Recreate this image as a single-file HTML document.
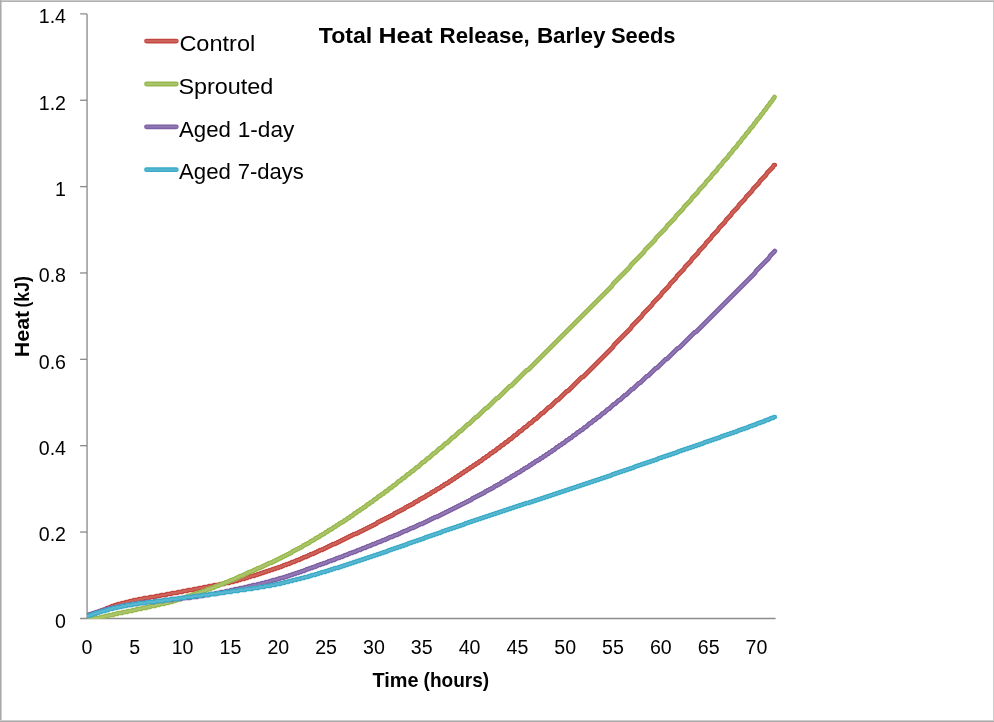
<!DOCTYPE html>
<html lang="en">
<head>
<meta charset="utf-8">
<title>Total Heat Release, Barley Seeds</title>
<style>
  html, body { margin: 0; padding: 0; background: #ffffff; }
  body { width: 994px; height: 722px; overflow: hidden; }
  svg { display: block; will-change: transform; opacity: 0.9999; font-family: "Liberation Sans", sans-serif; fill: #000; }
  .tick { font-size: 19.6px; }
  .legend { font-size: 22px; }
  .axt { font-size: 19.8px; font-weight: bold; }
  .title { font-size: 22.3px; font-weight: bold; }
</style>
</head>
<body>
<svg width="994" height="722" viewBox="0 0 994 722">
  <rect x="0" y="0" width="994" height="722" fill="#ffffff"/>
  <!-- outer frame -->
  <g shape-rendering="crispEdges">
    <rect x="0" y="0" width="994" height="1" fill="#c9c9c9"/>
    <rect x="0" y="1" width="994" height="1" fill="#b1b1b1"/>
    <rect x="0" y="0" width="1" height="722" fill="#a9a9a9"/>
    <rect x="1" y="2" width="1" height="720" fill="#d0d0d0"/>
    <rect x="993" y="2" width="1" height="720" fill="#cdcdcd"/>
    <rect x="0" y="720" width="994" height="1" fill="#cdcdcd"/>
    <rect x="0" y="721" width="994" height="1" fill="#a9a9a9"/>
  </g>
  <!-- axes -->
  <g stroke="#8c8c8c" stroke-width="1.35" fill="none">
    <polyline points="80.1,13.9 86.5,13.9 87.05,14.45 87.05,619.00" stroke-linejoin="round"/>
    <line x1="80.1" x2="775.6" y1="618.45" y2="618.45"/>
    <g><line x1="80.1" x2="87" y1="532.04" y2="532.04"/><line x1="80.1" x2="87" y1="445.69" y2="445.69"/><line x1="80.1" x2="87" y1="359.33" y2="359.33"/><line x1="80.1" x2="87" y1="272.97" y2="272.97"/><line x1="80.1" x2="87" y1="186.61" y2="186.61"/><line x1="80.1" x2="87" y1="100.26" y2="100.26"/></g>
  </g>
  <!-- series (drawn over axes, clipped to plot area) -->
  <defs><clipPath id="plot"><rect x="86.9" y="0" width="700" height="619"/></clipPath>
<path id="s-red" d="M87,617 L88,616 L90,616 L91,615 L92,615 L93,614 L95,614 L96,613 L97,613 L98,612 L99,612 L100,611 L101,611 L102,610 L104,610 L105,609 L106,609 L107,608 L109,608 L110,607 L111,607 L112,606 L114,606 L115,605 L117,605 L118,604 L121,604 L122,603 L125,603 L126,602 L129,602 L130,601 L133,601 L134,600 L138,600 L139,599 L143,599 L144,598 L149,598 L150,597 L155,597 L156,596 L160,596 L161,595 L166,595 L167,594 L171,594 L172,593 L177,593 L178,592 L182,592 L183,591 L187,591 L188,590 L193,590 L194,589 L198,589 L199,588 L203,588 L204,587 L208,587 L209,586 L213,586 L214,585 L219,585 L220,584 L224,584 L225,583 L229,583 L230,582 L233,582 L234,581 L237,581 L238,580 L240,580 L241,579 L244,579 L245,578 L247,578 L248,577 L250,577 L251,576 L254,576 L255,575 L257,575 L258,574 L260,574 L261,573 L263,573 L264,572 L266,572 L267,571 L269,571 L270,570 L272,570 L273,569 L275,569 L276,568 L278,568 L279,567 L281,567 L282,566 L283,566 L284,565 L286,565 L287,564 L289,564 L290,563 L291,563 L292,562 L294,562 L295,561 L296,561 L297,560 L299,560 L300,559 L301,559 L302,558 L303,558 L304,557 L306,557 L307,556 L308,556 L309,555 L310,555 L311,554 L313,554 L314,553 L315,553 L316,552 L317,552 L318,551 L319,551 L320,550 L322,550 L323,549 L324,549 L325,548 L326,548 L327,547 L328,547 L329,546 L330,546 L331,545 L332,545 L333,544 L335,544 L336,543 L337,543 L338,542 L339,542 L340,541 L341,541 L342,540 L343,540 L344,539 L345,539 L346,538 L347,538 L348,537 L349,537 L350,536 L351,536 L352,535 L353,535 L354,534 L356,534 L357,533 L358,533 L359,532 L360,532 L361,531 L362,531 L363,530 L364,530 L365,529 L366,529 L367,528 L368,528 L369,527 L370,527 L371,526 L372,526 L373,525 L374,525 L375,524 L376,524 L377,523 L378,522 L379,522 L380,521 L381,521 L382,520 L383,520 L384,519 L385,519 L386,518 L387,518 L388,517 L389,517 L390,516 L391,516 L392,515 L393,515 L394,514 L395,513 L396,513 L397,512 L398,512 L399,511 L400,511 L401,510 L402,510 L403,509 L404,509 L405,508 L406,507 L407,507 L408,506 L409,506 L410,505 L411,505 L412,504 L413,504 L414,503 L415,502 L416,502 L417,501 L418,501 L419,500 L420,499 L421,499 L422,498 L423,498 L424,497 L425,497 L426,496 L427,495 L428,495 L429,494 L430,494 L431,493 L432,492 L433,492 L434,491 L435,491 L436,490 L437,489 L438,489 L439,488 L440,488 L441,487 L442,486 L443,486 L444,485 L445,484 L446,484 L447,483 L448,483 L449,482 L450,481 L451,481 L452,480 L453,479 L454,479 L455,478 L456,477 L457,477 L458,476 L459,475 L460,475 L461,474 L462,473 L463,473 L464,472 L465,471 L466,471 L467,470 L468,469 L469,469 L470,468 L471,467 L472,467 L473,466 L474,465 L475,465 L476,464 L477,463 L478,463 L479,462 L480,461 L481,461 L482,460 L483,459 L484,458 L485,458 L486,457 L487,456 L488,456 L489,455 L490,454 L491,453 L492,453 L493,452 L494,451 L495,451 L496,450 L497,449 L498,448 L499,448 L500,447 L501,446 L502,445 L503,445 L504,444 L505,443 L506,442 L507,442 L508,441 L509,440 L510,439 L511,439 L512,438 L513,437 L514,436 L515,435 L516,435 L517,434 L518,433 L519,432 L520,431 L521,431 L522,430 L523,429 L524,428 L525,427 L526,427 L527,426 L528,425 L529,424 L530,423 L531,423 L532,422 L533,421 L534,420 L535,419 L536,419 L537,418 L538,417 L539,416 L540,415 L541,414 L542,413 L543,413 L544,412 L545,411 L546,410 L547,409 L548,408 L549,407 L550,407 L551,406 L552,405 L553,404 L554,403 L555,402 L556,401 L557,400 L558,400 L559,399 L560,398 L561,397 L562,396 L563,395 L564,394 L565,393 L566,392 L567,391 L568,391 L569,390 L570,389 L571,388 L572,387 L573,386 L574,385 L575,384 L576,383 L577,382 L578,381 L579,380 L580,379 L581,378 L582,377 L583,377 L584,376 L585,375 L586,374 L587,373 L588,372 L589,371 L590,370 L591,369 L592,368 L593,367 L594,366 L595,365 L596,364 L597,363 L598,362 L599,361 L600,360 L601,359 L602,358 L603,357 L604,356 L605,355 L606,354 L607,353 L608,352 L609,351 L610,350 L611,349 L612,348 L613,347 L614,345 L615,344 L616,343 L617,342 L618,341 L619,340 L620,339 L621,338 L622,337 L623,336 L624,335 L625,334 L626,333 L627,332 L628,331 L629,330 L630,329 L631,328 L632,326 L633,325 L634,324 L635,323 L636,322 L637,321 L638,320 L639,319 L640,318 L641,317 L642,316 L643,314 L644,313 L645,312 L646,311 L647,310 L648,309 L649,308 L650,307 L651,306 L652,305 L653,303 L654,302 L655,301 L656,300 L657,299 L658,298 L659,297 L660,296 L661,295 L662,293 L663,292 L664,291 L665,290 L666,289 L667,288 L668,287 L669,286 L670,284 L671,283 L672,282 L673,281 L674,280 L675,279 L676,278 L677,276 L678,275 L679,274 L680,273 L681,272 L682,271 L683,270 L684,269 L685,267 L686,266 L687,265 L688,264 L689,263 L690,262 L691,261 L692,259 L693,258 L694,257 L695,256 L696,255 L697,254 L698,253 L699,251 L700,250 L701,249 L702,248 L703,247 L704,246 L705,245 L706,243 L707,242 L708,241 L709,240 L710,239 L711,238 L712,236 L713,235 L714,234 L715,233 L716,232 L717,231 L718,230 L719,228 L720,227 L721,226 L722,225 L723,224 L724,223 L725,222 L726,220 L727,219 L728,218 L729,217 L730,216 L731,215 L732,213 L733,212 L734,211 L735,210 L736,209 L737,208 L738,207 L739,205 L740,204 L741,203 L742,202 L743,201 L744,200 L745,199 L746,197 L747,196 L748,195 L749,194 L750,193 L751,192 L752,191 L753,189 L754,188 L755,187 L756,186 L757,185 L758,184 L759,183 L760,181 L761,180 L762,179 L763,178 L764,177 L765,176 L766,175 L767,173 L768,172 L769,171 L770,170 L771,169 L772,168 L773,167 L774,165 L774.8,165"/>
<path id="s-green" d="M87,619 L93,619 L94,618 L100,618 L101,617 L104,617 L105,616 L108,616 L109,615 L113,615 L114,614 L117,614 L118,613 L122,613 L123,612 L127,612 L128,611 L132,611 L133,610 L136,610 L137,609 L141,609 L142,608 L146,608 L147,607 L150,607 L151,606 L155,606 L156,605 L159,605 L160,604 L164,604 L165,603 L168,603 L169,602 L172,602 L173,601 L175,601 L176,600 L178,600 L179,599 L181,599 L182,598 L184,598 L185,597 L187,597 L188,596 L190,596 L191,595 L193,595 L194,594 L196,594 L197,593 L199,593 L200,592 L202,592 L203,591 L205,591 L206,590 L207,590 L208,589 L210,589 L211,588 L213,588 L214,587 L215,587 L216,586 L218,586 L219,585 L220,585 L221,584 L223,584 L224,583 L225,583 L226,582 L228,582 L229,581 L230,581 L231,580 L233,580 L234,579 L235,579 L236,578 L237,578 L238,577 L239,577 L240,576 L242,576 L243,575 L244,575 L245,574 L246,574 L247,573 L248,573 L249,572 L251,572 L252,571 L253,571 L254,570 L255,570 L256,569 L257,569 L258,568 L260,568 L261,567 L262,567 L263,566 L264,566 L265,565 L266,565 L267,564 L268,564 L269,563 L271,563 L272,562 L273,562 L274,561 L275,561 L276,560 L277,560 L278,559 L279,559 L280,558 L281,558 L282,557 L283,557 L284,556 L285,556 L286,555 L287,555 L288,554 L289,554 L290,553 L291,553 L292,552 L293,551 L294,551 L295,550 L296,550 L297,549 L298,549 L299,548 L300,548 L301,547 L302,547 L303,546 L304,545 L305,545 L306,544 L307,544 L308,543 L309,543 L310,542 L311,541 L312,541 L313,540 L314,540 L315,539 L316,538 L317,538 L318,537 L319,537 L320,536 L321,535 L322,535 L323,534 L324,534 L325,533 L326,532 L327,532 L328,531 L329,530 L330,530 L331,529 L332,529 L333,528 L334,527 L335,527 L336,526 L337,525 L338,525 L339,524 L340,523 L341,523 L342,522 L343,522 L344,521 L345,520 L346,520 L347,519 L348,518 L349,518 L350,517 L351,516 L352,516 L353,515 L354,514 L355,513 L356,513 L357,512 L358,511 L359,511 L360,510 L361,509 L362,509 L363,508 L364,507 L365,507 L366,506 L367,505 L368,504 L369,504 L370,503 L371,502 L372,502 L373,501 L374,500 L375,499 L376,499 L377,498 L378,497 L379,496 L380,496 L381,495 L382,494 L383,494 L384,493 L385,492 L386,491 L387,491 L388,490 L389,489 L390,488 L391,488 L392,487 L393,486 L394,485 L395,485 L396,484 L397,483 L398,482 L399,481 L400,481 L401,480 L402,479 L403,478 L404,478 L405,477 L406,476 L407,475 L408,474 L409,474 L410,473 L411,472 L412,471 L413,471 L414,470 L415,469 L416,468 L417,467 L418,467 L419,466 L420,465 L421,464 L422,463 L423,462 L424,462 L425,461 L426,460 L427,459 L428,458 L429,458 L430,457 L431,456 L432,455 L433,454 L434,453 L435,453 L436,452 L437,451 L438,450 L439,449 L440,448 L441,448 L442,447 L443,446 L444,445 L445,444 L446,443 L447,443 L448,442 L449,441 L450,440 L451,439 L452,438 L453,437 L454,437 L455,436 L456,435 L457,434 L458,433 L459,432 L460,431 L461,431 L462,430 L463,429 L464,428 L465,427 L466,426 L467,425 L468,424 L469,424 L470,423 L471,422 L472,421 L473,420 L474,419 L475,418 L476,417 L477,417 L478,416 L479,415 L480,414 L481,413 L482,412 L483,411 L484,410 L485,409 L486,408 L487,408 L488,407 L489,406 L490,405 L491,404 L492,403 L493,402 L494,401 L495,400 L496,399 L497,398 L498,398 L499,397 L500,396 L501,395 L502,394 L503,393 L504,392 L505,391 L506,390 L507,389 L508,388 L509,387 L510,386 L511,386 L512,385 L513,384 L514,383 L515,382 L516,381 L517,380 L518,379 L519,378 L520,377 L521,376 L522,375 L523,374 L524,373 L525,372 L526,371 L527,370 L528,370 L529,369 L530,368 L531,367 L532,366 L533,365 L534,364 L535,363 L536,362 L537,361 L538,360 L539,359 L540,358 L541,357 L542,356 L543,355 L544,354 L545,353 L546,352 L547,351 L548,350 L549,349 L550,348 L551,347 L552,346 L553,345 L554,344 L555,343 L556,342 L557,341 L558,340 L559,339 L560,338 L561,337 L562,336 L563,335 L564,334 L565,333 L566,332 L567,331 L568,330 L569,329 L570,328 L571,327 L572,326 L573,325 L574,324 L575,323 L576,322 L577,321 L578,320 L579,319 L580,318 L581,317 L582,316 L583,315 L584,314 L585,313 L586,312 L587,311 L588,310 L589,309 L590,308 L591,307 L592,306 L593,305 L594,304 L595,303 L596,302 L597,301 L598,300 L599,299 L600,298 L601,297 L602,296 L603,295 L604,294 L605,293 L606,292 L607,291 L608,290 L609,289 L610,288 L611,287 L612,286 L613,284 L614,283 L615,282 L616,281 L617,280 L618,279 L619,278 L620,277 L621,276 L622,275 L623,274 L624,273 L625,272 L626,271 L627,270 L628,269 L629,268 L630,267 L631,265 L632,264 L633,263 L634,262 L635,261 L636,260 L637,259 L638,258 L639,257 L640,256 L641,255 L642,254 L643,253 L644,252 L645,250 L646,249 L647,248 L648,247 L649,246 L650,245 L651,244 L652,243 L653,242 L654,241 L655,240 L656,238 L657,237 L658,236 L659,235 L660,234 L661,233 L662,232 L663,231 L664,230 L665,229 L666,228 L667,226 L668,225 L669,224 L670,223 L671,222 L672,221 L673,220 L674,219 L675,218 L676,216 L677,215 L678,214 L679,213 L680,212 L681,211 L682,210 L683,209 L684,207 L685,206 L686,205 L687,204 L688,203 L689,202 L690,201 L691,200 L692,198 L693,197 L694,196 L695,195 L696,194 L697,193 L698,192 L699,190 L700,189 L701,188 L702,187 L703,186 L704,185 L705,184 L706,182 L707,181 L708,180 L709,179 L710,178 L711,177 L712,175 L713,174 L714,173 L715,172 L716,171 L717,170 L718,168 L719,167 L720,166 L721,165 L722,164 L723,162 L724,161 L725,160 L726,159 L727,158 L728,157 L729,155 L730,154 L731,153 L732,152 L733,150 L734,149 L735,148 L736,147 L737,146 L738,144 L739,143 L740,142 L741,141 L742,139 L743,138 L744,137 L745,136 L746,134 L747,133 L748,132 L749,131 L750,129 L751,128 L752,127 L753,126 L754,124 L755,123 L756,122 L757,120 L758,119 L759,118 L760,117 L761,115 L762,114 L763,113 L764,111 L765,110 L766,109 L767,107 L768,106 L769,105 L770,103 L771,102 L772,101 L773,99 L774,98 L774.5,97"/>
<path id="s-purple" d="M87,616 L88,615 L89,615 L90,614 L92,614 L93,613 L95,613 L96,612 L98,612 L99,611 L102,611 L103,610 L105,610 L106,609 L109,609 L110,608 L114,608 L115,607 L119,607 L120,606 L124,606 L125,605 L130,605 L131,604 L137,604 L138,603 L144,603 L145,602 L154,602 L155,601 L163,601 L164,600 L172,600 L173,599 L181,599 L182,598 L190,598 L191,597 L197,597 L198,596 L203,596 L204,595 L209,595 L210,594 L215,594 L216,593 L220,593 L221,592 L225,592 L226,591 L230,591 L231,590 L234,590 L235,589 L239,589 L240,588 L244,588 L245,587 L248,587 L249,586 L252,586 L253,585 L257,585 L258,584 L261,584 L262,583 L265,583 L266,582 L269,582 L270,581 L272,581 L273,580 L276,580 L277,579 L279,579 L280,578 L283,578 L284,577 L286,577 L287,576 L289,576 L290,575 L292,575 L293,574 L295,574 L296,573 L298,573 L299,572 L301,572 L302,571 L304,571 L305,570 L306,570 L307,569 L309,569 L310,568 L312,568 L313,567 L315,567 L316,566 L317,566 L318,565 L320,565 L321,564 L323,564 L324,563 L326,563 L327,562 L328,562 L329,561 L331,561 L332,560 L334,560 L335,559 L336,559 L337,558 L339,558 L340,557 L342,557 L343,556 L344,556 L345,555 L347,555 L348,554 L349,554 L350,553 L352,553 L353,552 L355,552 L356,551 L357,551 L358,550 L360,550 L361,549 L362,549 L363,548 L365,548 L366,547 L367,547 L368,546 L370,546 L371,545 L372,545 L373,544 L375,544 L376,543 L377,543 L378,542 L380,542 L381,541 L382,541 L383,540 L385,540 L386,539 L387,539 L388,538 L389,538 L390,537 L392,537 L393,536 L394,536 L395,535 L397,535 L398,534 L399,534 L400,533 L401,533 L402,532 L403,532 L404,531 L406,531 L407,530 L408,530 L409,529 L410,529 L411,528 L413,528 L414,527 L415,527 L416,526 L417,526 L418,525 L419,525 L420,524 L422,524 L423,523 L424,523 L425,522 L426,522 L427,521 L428,521 L429,520 L430,520 L431,519 L432,519 L433,518 L434,518 L435,517 L437,517 L438,516 L439,516 L440,515 L441,515 L442,514 L443,514 L444,513 L445,513 L446,512 L447,512 L448,511 L449,511 L450,510 L451,510 L452,509 L453,509 L454,508 L455,508 L456,507 L457,507 L458,506 L459,506 L460,505 L461,505 L462,504 L463,504 L464,503 L465,503 L466,502 L467,502 L468,501 L469,501 L470,500 L471,500 L472,499 L473,498 L474,498 L475,497 L476,497 L477,496 L478,496 L479,495 L480,495 L481,494 L482,494 L483,493 L484,493 L485,492 L486,491 L487,491 L488,490 L489,490 L490,489 L491,489 L492,488 L493,488 L494,487 L495,486 L496,486 L497,485 L498,485 L499,484 L500,484 L501,483 L502,482 L503,482 L504,481 L505,481 L506,480 L507,479 L508,479 L509,478 L510,478 L511,477 L512,476 L513,476 L514,475 L515,475 L516,474 L517,473 L518,473 L519,472 L520,472 L521,471 L522,470 L523,470 L524,469 L525,468 L526,468 L527,467 L528,467 L529,466 L530,465 L531,465 L532,464 L533,463 L534,463 L535,462 L536,461 L537,461 L538,460 L539,460 L540,459 L541,458 L542,458 L543,457 L544,456 L545,456 L546,455 L547,454 L548,454 L549,453 L550,452 L551,452 L552,451 L553,450 L554,450 L555,449 L556,448 L557,447 L558,447 L559,446 L560,445 L561,445 L562,444 L563,443 L564,443 L565,442 L566,441 L567,440 L568,440 L569,439 L570,438 L571,438 L572,437 L573,436 L574,435 L575,435 L576,434 L577,433 L578,432 L579,432 L580,431 L581,430 L582,430 L583,429 L584,428 L585,427 L586,427 L587,426 L588,425 L589,424 L590,423 L591,423 L592,422 L593,421 L594,420 L595,420 L596,419 L597,418 L598,417 L599,417 L600,416 L601,415 L602,414 L603,413 L604,413 L605,412 L606,411 L607,410 L608,409 L609,409 L610,408 L611,407 L612,406 L613,405 L614,404 L615,404 L616,403 L617,402 L618,401 L619,400 L620,400 L621,399 L622,398 L623,397 L624,396 L625,395 L626,395 L627,394 L628,393 L629,392 L630,391 L631,390 L632,389 L633,389 L634,388 L635,387 L636,386 L637,385 L638,384 L639,383 L640,383 L641,382 L642,381 L643,380 L644,379 L645,378 L646,377 L647,376 L648,376 L649,375 L650,374 L651,373 L652,372 L653,371 L654,370 L655,369 L656,368 L657,368 L658,367 L659,366 L660,365 L661,364 L662,363 L663,362 L664,361 L665,360 L666,359 L667,359 L668,358 L669,357 L670,356 L671,355 L672,354 L673,353 L674,352 L675,351 L676,350 L677,349 L678,348 L679,348 L680,347 L681,346 L682,345 L683,344 L684,343 L685,342 L686,341 L687,340 L688,339 L689,338 L690,337 L691,336 L692,335 L693,334 L694,333 L695,332 L696,332 L697,331 L698,330 L699,329 L700,328 L701,327 L702,326 L703,325 L704,324 L705,323 L706,322 L707,321 L708,320 L709,319 L710,318 L711,317 L712,316 L713,315 L714,314 L715,313 L716,312 L717,311 L718,310 L719,309 L720,308 L721,307 L722,306 L723,305 L724,304 L725,303 L726,302 L727,301 L728,300 L729,299 L730,298 L731,297 L732,296 L733,295 L734,294 L735,293 L736,292 L737,291 L738,290 L739,289 L740,288 L741,287 L742,286 L743,285 L744,284 L745,283 L746,282 L747,281 L748,280 L749,279 L750,278 L751,277 L752,276 L753,275 L754,274 L755,273 L756,271 L757,270 L758,269 L759,268 L760,267 L761,266 L762,265 L763,264 L764,263 L765,262 L766,261 L767,260 L768,259 L769,258 L770,256 L771,255 L772,254 L773,253 L774,252 L774.8,251"/>
<path id="s-cyan" d="M87,616 L89,616 L90,615 L92,615 L93,614 L95,614 L96,613 L98,613 L99,612 L101,612 L102,611 L105,611 L106,610 L108,610 L109,609 L112,609 L113,608 L116,608 L117,607 L121,607 L122,606 L126,606 L127,605 L132,605 L133,604 L138,604 L139,603 L146,603 L147,602 L155,602 L156,601 L163,601 L164,600 L170,600 L171,599 L178,599 L179,598 L185,598 L186,597 L193,597 L194,596 L201,596 L202,595 L209,595 L210,594 L217,594 L218,593 L224,593 L225,592 L231,592 L232,591 L238,591 L239,590 L245,590 L246,589 L252,589 L253,588 L258,588 L259,587 L264,587 L265,586 L270,586 L271,585 L275,585 L276,584 L280,584 L281,583 L284,583 L285,582 L288,582 L289,581 L292,581 L293,580 L296,580 L297,579 L300,579 L301,578 L304,578 L305,577 L308,577 L309,576 L311,576 L312,575 L315,575 L316,574 L318,574 L319,573 L321,573 L322,572 L325,572 L326,571 L328,571 L329,570 L331,570 L332,569 L334,569 L335,568 L338,568 L339,567 L341,567 L342,566 L344,566 L345,565 L347,565 L348,564 L350,564 L351,563 L353,563 L354,562 L356,562 L357,561 L359,561 L360,560 L362,560 L363,559 L365,559 L366,558 L368,558 L369,557 L371,557 L372,556 L374,556 L375,555 L377,555 L378,554 L380,554 L381,553 L383,553 L384,552 L386,552 L387,551 L388,551 L389,550 L391,550 L392,549 L394,549 L395,548 L397,548 L398,547 L400,547 L401,546 L403,546 L404,545 L406,545 L407,544 L408,544 L409,543 L411,543 L412,542 L414,542 L415,541 L417,541 L418,540 L420,540 L421,539 L423,539 L424,538 L425,538 L426,537 L428,537 L429,536 L431,536 L432,535 L434,535 L435,534 L437,534 L438,533 L440,533 L441,532 L442,532 L443,531 L445,531 L446,530 L448,530 L449,529 L451,529 L452,528 L454,528 L455,527 L457,527 L458,526 L460,526 L461,525 L463,525 L464,524 L465,524 L466,523 L468,523 L469,522 L471,522 L472,521 L474,521 L475,520 L477,520 L478,519 L480,519 L481,518 L483,518 L484,517 L486,517 L487,516 L489,516 L490,515 L492,515 L493,514 L495,514 L496,513 L498,513 L499,512 L501,512 L502,511 L504,511 L505,510 L507,510 L508,509 L510,509 L511,508 L513,508 L514,507 L516,507 L517,506 L519,506 L520,505 L522,505 L523,504 L525,504 L526,503 L529,503 L530,502 L532,502 L533,501 L535,501 L536,500 L538,500 L539,499 L541,499 L542,498 L544,498 L545,497 L547,497 L548,496 L550,496 L551,495 L553,495 L554,494 L556,494 L557,493 L559,493 L560,492 L562,492 L563,491 L565,491 L566,490 L568,490 L569,489 L571,489 L572,488 L574,488 L575,487 L577,487 L578,486 L580,486 L581,485 L583,485 L584,484 L586,484 L587,483 L589,483 L590,482 L592,482 L593,481 L595,481 L596,480 L598,480 L599,479 L601,479 L602,478 L604,478 L605,477 L607,477 L608,476 L610,476 L611,475 L612,475 L613,474 L615,474 L616,473 L618,473 L619,472 L621,472 L622,471 L624,471 L625,470 L627,470 L628,469 L630,469 L631,468 L633,468 L634,467 L635,467 L636,466 L638,466 L639,465 L641,465 L642,464 L644,464 L645,463 L647,463 L648,462 L650,462 L651,461 L653,461 L654,460 L656,460 L657,459 L658,459 L659,458 L661,458 L662,457 L664,457 L665,456 L667,456 L668,455 L670,455 L671,454 L673,454 L674,453 L676,453 L677,452 L678,452 L679,451 L681,451 L682,450 L684,450 L685,449 L687,449 L688,448 L690,448 L691,447 L693,447 L694,446 L696,446 L697,445 L699,445 L700,444 L702,444 L703,443 L704,443 L705,442 L707,442 L708,441 L710,441 L711,440 L713,440 L714,439 L716,439 L717,438 L719,438 L720,437 L721,437 L722,436 L724,436 L725,435 L727,435 L728,434 L730,434 L731,433 L733,433 L734,432 L736,432 L737,431 L738,431 L739,430 L741,430 L742,429 L744,429 L745,428 L747,428 L748,427 L749,427 L750,426 L752,426 L753,425 L755,425 L756,424 L757,424 L758,423 L760,423 L761,422 L763,422 L764,421 L765,421 L766,420 L768,420 L769,419 L770,419 L771,418 L773,418 L774,417 L774.8,417"/>
</defs>
  <g clip-path="url(#plot)" fill="none" stroke-linejoin="round" stroke-linecap="round">
<use href="#s-red" stroke="#C4463E" stroke-width="4.7"/><use href="#s-red" stroke="#CD645C" stroke-width="2.0"/>
<use href="#s-green" stroke="#98B84C" stroke-width="4.7"/><use href="#s-green" stroke="#AAC46C" stroke-width="2.0"/>
<use href="#s-purple" stroke="#7D5FA3" stroke-width="4.7"/><use href="#s-purple" stroke="#9178B3" stroke-width="2.0"/>
<use href="#s-cyan" stroke="#3AACC8" stroke-width="4.7"/><use href="#s-cyan" stroke="#58B6D0" stroke-width="2.0"/>
  </g>
  <g class="tick"><text x="66" y="627.7" text-anchor="end">0</text><text x="66" y="541.3" text-anchor="end">0.2</text><text x="66" y="455.0" text-anchor="end">0.4</text><text x="66" y="368.6" text-anchor="end">0.6</text><text x="66" y="282.3" text-anchor="end">0.8</text><text x="66" y="195.9" text-anchor="end">1</text><text x="66" y="109.6" text-anchor="end">1.2</text><text x="66" y="23.2" text-anchor="end">1.4</text></g>
  <g class="tick"><text x="87.0" y="654.3" text-anchor="middle">0</text><text x="134.8" y="654.3" text-anchor="middle">5</text><text x="182.6" y="654.3" text-anchor="middle">10</text><text x="230.5" y="654.3" text-anchor="middle">15</text><text x="278.3" y="654.3" text-anchor="middle">20</text><text x="326.1" y="654.3" text-anchor="middle">25</text><text x="373.9" y="654.3" text-anchor="middle">30</text><text x="421.7" y="654.3" text-anchor="middle">35</text><text x="469.6" y="654.3" text-anchor="middle">40</text><text x="517.4" y="654.3" text-anchor="middle">45</text><text x="565.2" y="654.3" text-anchor="middle">50</text><text x="613.0" y="654.3" text-anchor="middle">55</text><text x="660.8" y="654.3" text-anchor="middle">60</text><text x="708.7" y="654.3" text-anchor="middle">65</text><text x="756.5" y="654.3" text-anchor="middle">70</text></g>
  <g><line x1="146.5" x2="176.3" y1="41.1" y2="41.1" stroke="#C4463E" stroke-width="4.8" stroke-linecap="round"/><line x1="145.4" x2="177.4" y1="41.1" y2="41.1" stroke="#CD645C" stroke-width="2" stroke-linecap="butt"/><text class="legend" y="50.8"><tspan x="179.4" textLength="75.8" lengthAdjust="spacingAndGlyphs">Control</tspan></text><line x1="146.5" x2="176.3" y1="84.0" y2="84.0" stroke="#98B84C" stroke-width="4.8" stroke-linecap="round"/><line x1="145.4" x2="177.4" y1="84.0" y2="84.0" stroke="#AAC46C" stroke-width="2" stroke-linecap="butt"/><text class="legend" y="93.7"><tspan x="178.4" textLength="95.0" lengthAdjust="spacingAndGlyphs">Sprouted</tspan></text><line x1="146.5" x2="176.3" y1="126.8" y2="126.8" stroke="#7D5FA3" stroke-width="4.8" stroke-linecap="round"/><line x1="145.4" x2="177.4" y1="126.8" y2="126.8" stroke="#9178B3" stroke-width="2" stroke-linecap="butt"/><text class="legend" y="136.5"><tspan x="179.0" textLength="51.9" lengthAdjust="spacingAndGlyphs">Aged</tspan> <tspan x="237.7" textLength="56.6" lengthAdjust="spacingAndGlyphs">1-day</tspan></text><line x1="146.5" x2="176.3" y1="169.7" y2="169.7" stroke="#3AACC8" stroke-width="4.8" stroke-linecap="round"/><line x1="145.4" x2="177.4" y1="169.7" y2="169.7" stroke="#58B6D0" stroke-width="2" stroke-linecap="butt"/><text class="legend" y="179.3"><tspan x="179.0" textLength="51.9" lengthAdjust="spacingAndGlyphs">Aged</tspan> <tspan x="237.7" textLength="66.2" lengthAdjust="spacingAndGlyphs">7-days</tspan></text></g>
  <g><text class="title" y="42.7"><tspan x="318.8" textLength="53.5" lengthAdjust="spacingAndGlyphs">Total</tspan> <tspan x="378.5" textLength="54.1" lengthAdjust="spacingAndGlyphs">Heat</tspan> <tspan x="439.6" textLength="90.2" lengthAdjust="spacingAndGlyphs">Release,</tspan> <tspan x="536.9" textLength="68.7" lengthAdjust="spacingAndGlyphs">Barley</tspan> <tspan x="610.9" textLength="64.6" lengthAdjust="spacingAndGlyphs">Seeds</tspan></text></g>
  <g><text class="axt" y="686.5"><tspan x="372.5" textLength="46.1" lengthAdjust="spacingAndGlyphs">Time</tspan> <tspan x="423.6" textLength="65.5" lengthAdjust="spacingAndGlyphs">(hours)</tspan></text></g>
  <g transform="translate(28.7 356.3) rotate(-90)"><text class="axt" y="0"><tspan x="-0.9" textLength="46.4" lengthAdjust="spacingAndGlyphs">Heat</tspan> <tspan x="48.8" textLength="31.3" lengthAdjust="spacingAndGlyphs">(kJ)</tspan></text></g>
</svg>
</body>
</html>
